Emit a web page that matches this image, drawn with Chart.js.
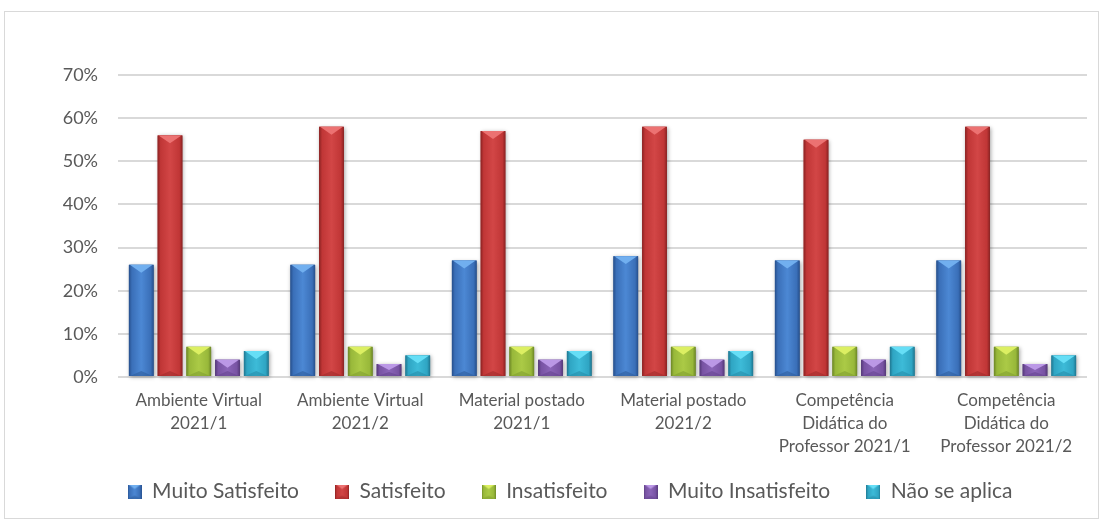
<!DOCTYPE html>
<html>
<head>
<meta charset="utf-8">
<script src="https://cdn.jsdelivr.net/npm/chart.js@4"></script>
<style>
body { margin: 0; background: #fff; }
#box { position: absolute; left: 4px; top: 11px; width: 1095px; height: 508px; border: 1px solid #d9d9d9; box-sizing: border-box; }
</style>
</head>
<body>
<div id="box"><canvas id="grafico"></canvas></div>
<script>
const categorias = [
    ["Ambiente Virtual", "2021/1"],
    ["Ambiente Virtual", "2021/2"],
    ["Material postado", "2021/1"],
    ["Material postado", "2021/2"],
    ["Competência", "Didática do", "Professor 2021/1"],
    ["Competência", "Didática do", "Professor 2021/2"]
];
const series = ["Muito Satisfeito", "Satisfeito", "Insatisfeito", "Muito Insatisfeito", "Não se aplica"];
const muitoSatisfeito = [26, 26, 27, 28, 27, 27];
const satisfeito = [56, 58, 57, 58, 55, 58];
const insatisfeito = [7, 7, 7, 7, 7, 7];
const muitoInsatisfeito = [4, 3, 4, 4, 4, 3];
const naoSeAplica = [6, 5, 6, 6, 7, 5];
const ticksY = [0, 10, 20, 30, 40, 50, 60, 70];

const valores = [muitoSatisfeito, satisfeito, insatisfeito, muitoInsatisfeito, naoSeAplica];

// tons para o efeito chanfrado
const tons = [
    { base: "#3a6fb8", light: "#4c88d4", dark: "#264f8c", top: "#71afef", bottom: "#2f5d9c" },
    { base: "#c03636", light: "#d24646", dark: "#8a2222", top: "#ec7272", bottom: "#a02c2c" },
    { base: "#98b83a", light: "#abca46", dark: "#6c8626", top: "#dcef62", bottom: "#809e30" },
    { base: "#7853a3", light: "#8b65b8", dark: "#543878", top: "#bb98e6", bottom: "#66458f" },
    { base: "#2fa5c3", light: "#3dbbd8", dark: "#1f7690", top: "#66def6", bottom: "#278ca8" }
];
const corTexto = "#595959";
const fonte = "Lato, 'Open Sans', sans-serif";

function desenhaChanfro(ctx, l, t, w, h, c, sombra) {
    const r = l + w, b = t + h, cx = l + w / 2;
    ctx.save();
    if (sombra) {
        ctx.shadowColor = "rgba(0,0,0,0.35)";
        ctx.shadowBlur = 4;
        ctx.shadowOffsetX = 1;
        ctx.shadowOffsetY = 1;
    }
    const g = ctx.createLinearGradient(l, 0, r, 0);
    g.addColorStop(0, c.dark);
    g.addColorStop(0.12, c.base);
    g.addColorStop(0.5, c.light);
    g.addColorStop(0.88, c.base);
    g.addColorStop(1, c.dark);
    ctx.fillStyle = g;
    ctx.fillRect(l, t, w, h);
    ctx.restore();
    const bv = Math.min(w * 0.32, h / 2);
    ctx.fillStyle = c.top;
    ctx.beginPath();
    ctx.moveTo(l + 1, t);
    ctx.lineTo(r - 1, t);
    ctx.lineTo(cx, t + bv);
    ctx.closePath();
    ctx.fill();
    const bb = Math.min(w * 0.2, h / 3);
    ctx.fillStyle = c.bottom;
    ctx.globalAlpha = 0.6;
    ctx.beginPath();
    ctx.moveTo(l + 1, b);
    ctx.lineTo(r - 1, b);
    ctx.lineTo(cx, b - bb);
    ctx.closePath();
    ctx.fill();
    ctx.globalAlpha = 1;
}

const chanfro = {
    id: "chanfro",
    afterDatasetsDraw(chart) {
        const ctx = chart.ctx;
        chart.data.datasets.forEach((ds, i) => {
            const meta = chart.getDatasetMeta(i);
            meta.data.forEach(bar => {
                const w = bar.width;
                desenhaChanfro(ctx, bar.x - w / 2, bar.y, w, bar.base - bar.y, tons[i], true);
            });
        });
    }
};

const icones = tons.map(c => {
    const cv = document.createElement("canvas");
    cv.width = 14; cv.height = 14;
    desenhaChanfro(cv.getContext("2d"), 0, 0, 14, 14, c, false);
    return cv;
});

const ctx = document.getElementById("grafico").getContext("2d");
new Chart(ctx, {
    type: "bar",
    data: {
        labels: categorias,
        datasets: series.map((nome, i) => ({
            label: nome,
            data: valores[i],
            backgroundColor: tons[i].base,
            borderWidth: 0,
            categoryPercentage: 0.89,
            barPercentage: 0.86,
            pointStyle: icones[i]
        }))
    },
    options: {
        responsive: true,
        maintainAspectRatio: false,
        animation: false,
        layout: { padding: { top: 63, right: 11, bottom: 6, left: 48 } },
        scales: {
            x: {
                grid: { display: false, drawTicks: false },
                border: { display: false },
                ticks: {
                    color: corTexto,
                    font: { family: fonte, size: 17, lineHeight: 1.35 },
                    padding: 12,
                    maxRotation: 0,
                    autoSkip: false
                },
                afterFit: s => {
                    s.height = 68;
                    // deixa a terceira linha dos rótulos passar da caixa do eixo
                    s._computeLabelArea = () => undefined;
                }
            },
            y: {
                min: 0,
                max: 70,
                afterBuildTicks: s => { s.ticks = ticksY.map(v => ({ value: v })); },
                grid: { color: "#d9d9d9", lineWidth: 2, drawTicks: false },
                border: { display: false },
                ticks: {
                    color: corTexto,
                    font: { family: fonte, size: 18 },
                    padding: 20,
                    callback: v => v + "%"
                },
                afterFit: s => { s.width = 65; }
            }
        },
        plugins: {
            legend: {
                position: "bottom",
                labels: {
                    color: corTexto,
                    font: { family: fonte, size: 21 },
                    usePointStyle: true,
                    boxWidth: 14,
                    boxHeight: 14,
                    padding: 36
                }
            },
            tooltip: { enabled: false },
            title: { display: false }
        }
    },
    plugins: [chanfro]
});
</script>
</body>
</html>
